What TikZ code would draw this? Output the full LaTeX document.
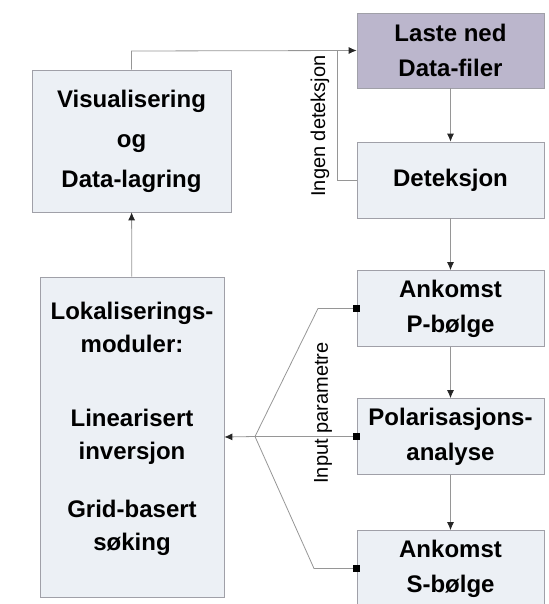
\documentclass[tikz,border=0pt]{standalone}
\usepackage{fontspec}
\setmainfont{Liberation Sans}
\usetikzlibrary{arrows.meta, positioning}
\definecolor{boxfill}{RGB}{236,240,245}
\definecolor{lilac}{RGB}{187,182,204}
\definecolor{edge}{RGB}{160,160,168}
\definecolor{wire}{RGB}{150,150,150}

\begin{document}
\begin{tikzpicture}[x=1pt, y=-1pt,
  box/.style={draw=edge, fill=boxfill, line width=0.7pt, align=center, inner sep=0pt,
    minimum width=187pt, minimum height=76pt, font=\fontsize{24}{35}\selectfont\bfseries},
  flow/.style={draw=wire, line width=0.8pt, -{Latex[length=8pt,width=7pt,color=black!85]}},
  feed/.style={draw=wire, line width=0.8pt, {Square[length=7pt,width=7pt,color=black]}-},
  tag/.style={font=\fontsize{20}{24}\selectfont, rotate=90}]
  \useasboundingbox (0,0) rectangle (548,604);
  % right column
  \node[box, fill=lilac, minimum height=75pt] (laste) at (450.5,50.5) {Laste ned\\Data-filer};
  \node[box] (det) at (450.5,180) {Deteksjon};
  \node[box] (pb) at (450.5,308.5) {Ankomst\\P-bølge};
  \node[box] (pol) at (450.5,436.5) {Polarisasjons-\\analyse};
  \node[box] (sb) at (450.5,568.5) {Ankomst\\S-bølge};
  % left column
  \node[box, minimum width=199pt, minimum height=142pt] (vis) at (131.5,141)
    {Visualisering\\[5pt]og\\[5pt]Data-lagring};
  \node[box, minimum width=184pt, minimum height=320pt, font=\fontsize{24}{33}\selectfont\bfseries]
    (lok) at (132,437)
    {Lokaliserings-\\moduler:\\[41pt]Linearisert\\inversjon\\[25pt]Grid-basert\\søking\rule[-22pt]{0pt}{22pt}};
  % main flow
  \draw[flow] (laste) -- (det);
  \draw[flow] (det) -- (pb);
  \draw[flow] (pb) -- (pol);
  \draw[flow] (pol) -- (sb);
  \draw[flow] (lok) -- (vis);
  \coordinate (top) at (131.5,51);
  \coordinate (join) at (337,51);
  \draw[flow] (vis.north) -- (top) -- (laste.west);
  \draw[draw=wire, line width=0.8pt] (det.west) -| (join);
  \node[tag] (ingen) at (320,126) {Ingen deteksjon};
  % input parameters
  \coordinate (split) at (255,436.5);
  \coordinate (pbend) at (318,308.5);
  \coordinate (sbend) at (314,568.5);
  \draw[feed] ([xshift=3pt]pb.west) -- (pbend) -- (split);
  \draw[feed] ([xshift=3pt]pol.west) -- (split);
  \draw[feed] ([xshift=3pt]sb.west) -- (sbend) -- (split);
  \draw[flow] (split) -- (lok.east);
  \node[tag] (input) at (323,413) {Input parametre};
\end{tikzpicture}
\end{document}
